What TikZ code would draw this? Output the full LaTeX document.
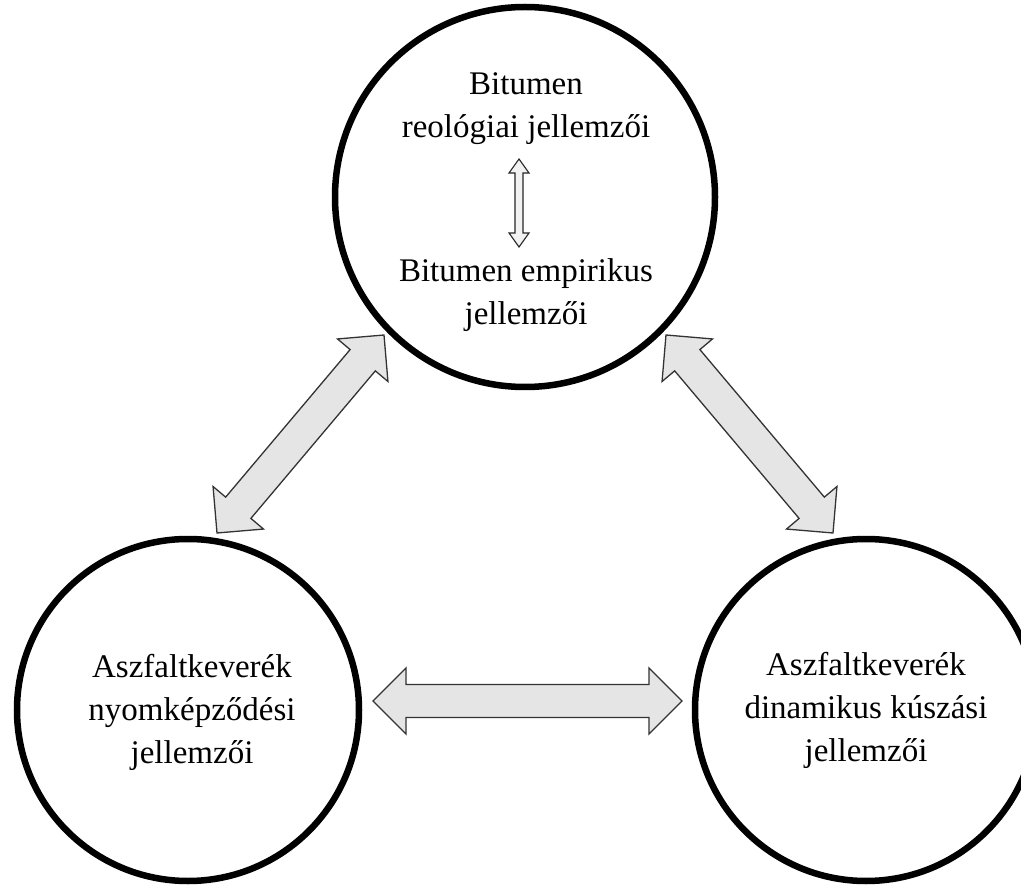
\documentclass[tikz,border=0pt]{standalone}
\usepackage{fontspec}
\setmainfont{Liberation Serif}
\usetikzlibrary{calc}
\tikzset{
  ring/.style={circle, draw=black, line width=6.5pt, inner sep=0pt},
  lbl/.style={anchor=base, inner sep=0pt, font=\fontsize{33}{43}\selectfont},
  bigarrow/.style={draw=black!80, line width=1.3pt, fill=black!10, line join=miter},
  smallarrow/.style={draw=black!85, line width=1.1pt, fill=black!5, line join=miter}
}
\newcommand\dblarrow[6]{%
  \path ($(#2)!#6!(#3)$) coordinate (#2#3pa) ($(#3)!#6!(#2)$) coordinate (#2#3pb);
  \draw[#1] (#2) -- ($(#2#3pa)!#5!90:(#3)$) -- ($(#2#3pa)!#4!90:(#3)$)
    -- ($(#2#3pb)!#4!-90:(#2)$) -- ($(#2#3pb)!#5!-90:(#2)$) -- (#3)
    -- ($(#2#3pb)!#5!90:(#2)$) -- ($(#2#3pb)!#4!90:(#2)$)
    -- ($(#2#3pa)!#4!-90:(#3)$) -- ($(#2#3pa)!#5!-90:(#3)$) -- cycle;
}
\begin{document}
\begin{tikzpicture}[x=1pt, y=-1pt]
\useasboundingbox (0,0) rectangle (1021,885);
\fill[white] (0,0) rectangle (1021,885);
\begin{scope}
\clip (0,0) rectangle (1021,885);
% circles
\node[ring, minimum size=380pt] (top) at (525,197) {};
\node[ring, minimum size=342pt] (left) at (188,710) {};
\node[ring, minimum size=342pt] (right) at (866,710) {};
\end{scope}
% texts
\node[lbl] (t1) at (526,95) {Bitumen};
\node[lbl] (t2) at (526,138) {reológiai jellemzői};
\node[lbl] (t3) at (526,282) {Bitumen empirikus};
\node[lbl] (t4) at (526,325) {jellemzői};
\node[lbl] (l1) at (192,677) {Aszfaltkeverék};
\node[lbl] (l2) at (192,720) {nyomképződési};
\node[lbl] (l3) at (192,763) {jellemzői};
\node[lbl] (r1) at (866,675) {Aszfaltkeverék};
\node[lbl] (r2) at (866,718) {dinamikus kúszási};
\node[lbl] (r3) at (866,761) {jellemzői};
% arrow end points
\coordinate (sa) at (519,159);
\coordinate (sb) at (519,247);
\coordinate (nwa) at (217,533);
\coordinate (nwb) at (384,335);
\coordinate (nea) at (666,335);
\coordinate (neb) at (833,533);
\coordinate (ha) at (373,701);
\coordinate (hb) at (682,701);
% arrows
\dblarrow{smallarrow}{sa}{sb}{4pt}{10pt}{14pt}
\dblarrow{bigarrow}{nwa}{nwb}{16.5pt}{33pt}{33pt}
\dblarrow{bigarrow}{nea}{neb}{16.5pt}{33pt}{33pt}
\dblarrow{bigarrow}{ha}{hb}{16.5pt}{33pt}{33pt}
\end{tikzpicture}
\end{document}
